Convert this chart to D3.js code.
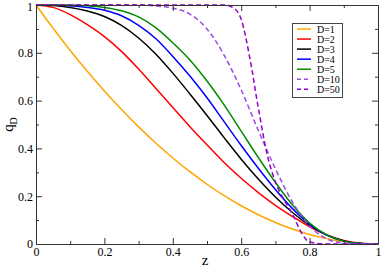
<!DOCTYPE html>
<html>
<head>
<meta charset="utf-8">
<script src="https://cdn.jsdelivr.net/npm/d3@7"></script>
<style>
  html, body { margin: 0; padding: 0; background: #fff; }
  svg { display: block; }
  svg text { font-family: 'Liberation Serif', 'Times New Roman', Times, serif !important; }
</style>
</head>
<body>
<svg id="chart" width="382" height="268"></svg>
<script>
// Data
const Z = [0, 0.05, 0.1, 0.15, 0.2, 0.25, 0.3, 0.35, 0.4, 0.45, 0.5, 0.55, 0.6, 0.65, 0.7, 0.75, 0.8, 0.85, 0.9, 0.95, 1];
const D1 = [1, 0.9025, 0.81, 0.7225, 0.64, 0.5625, 0.49, 0.4225, 0.36, 0.3025, 0.25, 0.2025, 0.16, 0.1225, 0.09, 0.0625, 0.04, 0.0225, 0.01, 0.0025, 0];
const D2 = [1, 0.99, 0.96, 0.918, 0.868, 0.806, 0.732, 0.652, 0.571, 0.491, 0.415, 0.341, 0.275, 0.215, 0.162, 0.115, 0.072, 0.038, 0.015, 0.003, 0];
const D3 = [1, 0.998, 0.99, 0.975, 0.952, 0.915, 0.862, 0.795, 0.715, 0.628, 0.538, 0.445, 0.355, 0.272, 0.197, 0.132, 0.078, 0.038, 0.013, 0.002, 0];
const D4 = [1, 1, 0.997, 0.99, 0.978, 0.955, 0.915, 0.86, 0.785, 0.703, 0.612, 0.512, 0.412, 0.317, 0.228, 0.148, 0.083, 0.037, 0.012, 0.002, 0];
const D5 = [1, 1, 1, 0.997, 0.99, 0.976, 0.95, 0.905, 0.842, 0.77, 0.682, 0.582, 0.472, 0.362, 0.258, 0.163, 0.088, 0.038, 0.012, 0.002, 0];
const D10 = [1, 1, 1, 1, 1, 1, 1, 0.996, 0.987, 0.962, 0.9, 0.79, 0.645, 0.475, 0.315, 0.175, 0.075, 0.022, 0.004, 0, 0];
const Z50 = [0, 0.5, 0.55, 0.575, 0.6, 0.625, 0.65, 0.675, 0.7, 0.725, 0.75, 0.775, 0.8, 0.85, 1];
const D50 = [1, 1, 1, 0.99, 0.94, 0.78, 0.57, 0.38, 0.26, 0.185, 0.125, 0.05, 0.008, 0, 0];

const SERIES = [
  {label: 'D=1', z: Z, q: D1, color: '#ffa500', dash: null},
  {label: 'D=2', z: Z, q: D2, color: '#ff0000', dash: null},
  {label: 'D=3', z: Z, q: D3, color: '#000000', dash: null},
  {label: 'D=4', z: Z, q: D4, color: '#0000ff', dash: null},
  {label: 'D=5', z: Z, q: D5, color: '#008b00', dash: null},
  {label: 'D=10', z: Z, q: D10, color: '#9b4de0', dash: '5,3'},
  {label: 'D=50', z: Z50, q: D50, color: '#9400d3', dash: '5,3'}
];

const MAJOR = [0, 0.2, 0.4, 0.6, 0.8, 1];
const MINOR = [0.1, 0.3, 0.5, 0.7, 0.9];

// Layout
const svg = d3.select('#chart');
const margin = {left: 36, top: 5, right: 4, bottom: 24};
const width = 382, height = 268;
const iw = width - margin.left - margin.right;
const ih = height - margin.top - margin.bottom;
const g = svg.append('g').attr('transform', `translate(${margin.left},${margin.top})`);

const x = d3.scaleLinear().domain([0, 1]).range([0, iw]);
const y = d3.scaleLinear().domain([0, 1]).range([ih, 0]);

const fmt = d => d === 0 || d === 1 ? String(d) : d3.format('.1f')(d);
const axisColor = '#333';

// curves
const line = d3.line()
  .x(d => x(d[0]))
  .y(d => y(d[1]))
  .curve(d3.curveMonotoneX);

svg.append('clipPath').attr('id', 'clip')
  .append('rect').attr('x', -1).attr('y', -1).attr('width', iw + 2).attr('height', ih + 2);

g.append('g').attr('clip-path', 'url(#clip)')
  .selectAll('path')
  .data(SERIES)
  .join('path')
  .attr('d', s => line(s.z.map((z, i) => [z, s.q[i]])))
  .attr('fill', 'none')
  .attr('stroke', s => s.color)
  .attr('stroke-width', 1.5)
  .attr('stroke-dasharray', s => s.dash);

// axes, ticks inward on all sides
function styleAxis(sel) {
  sel.attr('font-size', 12);
  sel.select('.domain').attr('stroke', axisColor);
  sel.selectAll('.tick line').attr('stroke', axisColor);
  sel.selectAll('.tick text').attr('fill', '#000');
}

function addAxis(axisFn, scale, tx, ty, withLabels) {
  const major = g.append('g').attr('transform', `translate(${tx},${ty})`)
    .call(axisFn(scale).tickValues(MAJOR)
      .tickFormat(withLabels ? fmt : '')
      .tickSizeInner(-6).tickSizeOuter(0).tickPadding(3));
  styleAxis(major);
  const minor = g.append('g').attr('transform', `translate(${tx},${ty})`)
    .call(axisFn(scale).tickValues(MINOR).tickFormat('').tickSizeInner(-3).tickSizeOuter(0));
  styleAxis(minor);
  minor.select('.domain').remove();
  return major;
}

addAxis(d3.axisBottom, x, 0, ih, true);
addAxis(d3.axisTop, x, 0, 0, false);
const gy = addAxis(d3.axisLeft, y, 0, 0, true);
addAxis(d3.axisRight, y, iw, 0, false);

// keep the top "1" inside the picture
gy.selectAll('.tick text').filter(d => d === 1).attr('dy', '0.42em');

// axis titles
svg.append('text')
  .attr('x', margin.left + iw / 2 - 2)
  .attr('y', 265)
  .attr('text-anchor', 'middle')
  .attr('font-size', 15)
  .text('z');

const yt = svg.append('text')
  .attr('transform', `translate(13, ${margin.top + ih / 2}) rotate(-90)`)
  .attr('text-anchor', 'middle')
  .attr('font-size', 15);
yt.append('tspan').text('q');
yt.append('tspan').attr('dy', 4).attr('font-size', 10).text('D');

// legend
const lg = svg.append('g').attr('transform', 'translate(292,23)');
lg.append('rect')
  .attr('x', 0.5).attr('y', 0.5)
  .attr('width', 50).attr('height', 74)
  .attr('fill', '#fff')
  .attr('stroke', '#444');

const items = lg.selectAll('g.item')
  .data(SERIES)
  .join('g')
  .attr('class', 'item')
  .attr('transform', (d, i) => `translate(0,${6 + i * 10.05})`);
items.append('line')
  .attr('x1', 5).attr('x2', 19)
  .attr('stroke', d => d.color)
  .attr('stroke-width', 1.5)
  .attr('stroke-dasharray', d => d.dash ? '4,3' : null);
items.append('text')
  .attr('x', 25).attr('y', 3.5)
  .attr('font-size', 10)
  .text(d => d.label);
</script>
</body>
</html>
